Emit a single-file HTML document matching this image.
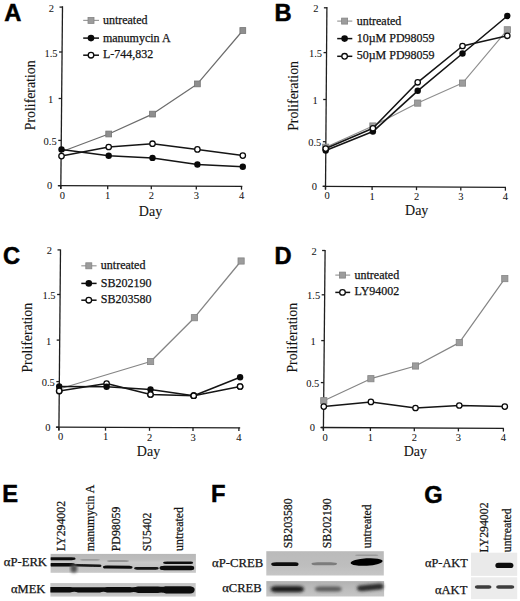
<!DOCTYPE html>
<html><head><meta charset="utf-8"><title>Figure</title>
<style>html,body{margin:0;padding:0;background:#fff;}svg{display:block;}</style>
</head><body>
<svg width="520" height="601" viewBox="0 0 520 601">
<rect width="520" height="601" fill="#fff"/>
<defs>
<filter id="b1" x="-20%" y="-50%" width="140%" height="200%"><feGaussianBlur stdDeviation="0.9"/></filter>
<filter id="b2" x="-20%" y="-50%" width="140%" height="200%"><feGaussianBlur stdDeviation="1.4"/></filter>
<filter id="b05" x="-20%" y="-50%" width="140%" height="200%"><feGaussianBlur stdDeviation="0.5"/></filter>
<filter id="b07" x="-20%" y="-50%" width="140%" height="200%"><feGaussianBlur stdDeviation="0.7"/></filter>
<filter id="b15" x="-20%" y="-50%" width="140%" height="200%"><feGaussianBlur stdDeviation="1.5"/></filter>
<linearGradient id="gE1" x1="0" y1="0" x2="0" y2="1">
<stop offset="0" stop-color="#b8b8b8"/><stop offset="0.3" stop-color="#bdbdbd"/><stop offset="0.45" stop-color="#cacaca"/><stop offset="0.7" stop-color="#c2c2c2"/><stop offset="1" stop-color="#c8c8c8"/></linearGradient>
<linearGradient id="gE2" x1="0" y1="0" x2="0" y2="1">
<stop offset="0" stop-color="#c4c4c4"/><stop offset="0.3" stop-color="#cacaca"/><stop offset="0.7" stop-color="#bebebe"/><stop offset="1" stop-color="#cccccc"/></linearGradient>
<linearGradient id="gF1" x1="0" y1="0" x2="0" y2="1">
<stop offset="0" stop-color="#bababa"/><stop offset="0.6" stop-color="#bebebe"/><stop offset="1" stop-color="#c6c6c6"/></linearGradient>
<linearGradient id="gF2" x1="0" y1="0" x2="0" y2="1">
<stop offset="0" stop-color="#b2b2b2"/><stop offset="0.5" stop-color="#bcbcbc"/><stop offset="1" stop-color="#c6c6c6"/></linearGradient>
</defs>
<text x="4.3" y="20.8" font-family='"Liberation Sans", sans-serif' font-weight="bold" font-size="23.7" fill="#000" stroke="#000" stroke-width="0.5">A</text>
<line x1="62.5" y1="6.3" x2="60.8" y2="189.0" stroke="#1e1e1e" stroke-width="1.3"/>
<line x1="58.6" y1="185.7" x2="242.3" y2="186.4" stroke="#1e1e1e" stroke-width="1.3"/>
<line x1="59.5" y1="7.1" x2="62.5" y2="7.1" stroke="#1e1e1e" stroke-width="1.3"/>
<text x="51.4" y="11.6" font-family='"Liberation Serif", serif' font-size="10.5" fill="#141414" stroke="#141414" stroke-width="0.05" text-anchor="middle" >2</text>
<line x1="59.08" y1="52.0" x2="62.08" y2="52.0" stroke="#1e1e1e" stroke-width="1.3"/>
<text x="50.98" y="56.5" font-family='"Liberation Serif", serif' font-size="10.5" fill="#141414" stroke="#141414" stroke-width="0.05" text-anchor="middle" >1.5</text>
<line x1="58.64" y1="98.5" x2="61.64" y2="98.5" stroke="#1e1e1e" stroke-width="1.3"/>
<text x="50.54" y="103.0" font-family='"Liberation Serif", serif' font-size="10.5" fill="#141414" stroke="#141414" stroke-width="0.05" text-anchor="middle" >1</text>
<line x1="58.25" y1="140.4" x2="61.25" y2="140.4" stroke="#1e1e1e" stroke-width="1.3"/>
<text x="50.15" y="144.9" font-family='"Liberation Serif", serif' font-size="10.5" fill="#141414" stroke="#141414" stroke-width="0.05" text-anchor="middle" >0.5</text>
<line x1="57.83" y1="185.7" x2="60.83" y2="185.7" stroke="#1e1e1e" stroke-width="1.3"/>
<text x="49.73" y="189.2" font-family='"Liberation Serif", serif' font-size="10.5" fill="#141414" stroke="#141414" stroke-width="0.05" text-anchor="middle" >0</text>
<line x1="60.8" y1="185.71" x2="60.8" y2="189.01" stroke="#1e1e1e" stroke-width="1.3"/>
<text x="62.4" y="198.71" font-family='"Liberation Serif", serif' font-size="10.5" fill="#141414" stroke="#141414" stroke-width="0.05" text-anchor="middle" >0</text>
<line x1="107.7" y1="185.89" x2="107.7" y2="189.19" stroke="#1e1e1e" stroke-width="1.3"/>
<text x="107.7" y="198.89" font-family='"Liberation Serif", serif' font-size="10.5" fill="#141414" stroke="#141414" stroke-width="0.05" text-anchor="middle" >1</text>
<line x1="151.3" y1="186.05" x2="151.3" y2="189.35" stroke="#1e1e1e" stroke-width="1.3"/>
<text x="151.3" y="199.05" font-family='"Liberation Serif", serif' font-size="10.5" fill="#141414" stroke="#141414" stroke-width="0.05" text-anchor="middle" >2</text>
<line x1="196.3" y1="186.22" x2="196.3" y2="189.52" stroke="#1e1e1e" stroke-width="1.3"/>
<text x="196.3" y="199.22" font-family='"Liberation Serif", serif' font-size="10.5" fill="#141414" stroke="#141414" stroke-width="0.05" text-anchor="middle" >3</text>
<line x1="241.5" y1="186.4" x2="241.5" y2="189.7" stroke="#1e1e1e" stroke-width="1.3"/>
<text x="241.5" y="199.4" font-family='"Liberation Serif", serif' font-size="10.5" fill="#141414" stroke="#141414" stroke-width="0.05" text-anchor="middle" >4</text>
<text x="150.5" y="215.8" font-family='"Liberation Serif", serif' font-size="14" fill="#141414" stroke="#141414" stroke-width="0.1" text-anchor="middle" >Day</text>
<text transform="translate(35.0,130.2) rotate(-90)" font-family='"Liberation Serif", serif' font-size="13.8" fill="#141414" stroke="#141414" stroke-width="0.12" >Proliferation</text>
<polyline points="61.5,151.8 108.7,134.0 152.5,114.1 197.4,83.9 242.8,30.5" fill="none" stroke="#6c6c6c" stroke-width="1.2" stroke-linejoin="round"/>
<rect x="105.80" y="131.10" width="5.8" height="5.8" fill="#8e8e8e" stroke="#767676" stroke-width="0.8"/>
<rect x="149.60" y="111.20" width="5.8" height="5.8" fill="#8e8e8e" stroke="#767676" stroke-width="0.8"/>
<rect x="194.50" y="81.00" width="5.8" height="5.8" fill="#8e8e8e" stroke="#767676" stroke-width="0.8"/>
<rect x="239.90" y="27.60" width="5.8" height="5.8" fill="#8e8e8e" stroke="#767676" stroke-width="0.8"/>
<polyline points="61.5,149.4 108.7,155.8 152.5,157.9 197.4,164.5 242.8,166.7" fill="none" stroke="#151515" stroke-width="1.5" stroke-linejoin="round"/>
<polyline points="61.5,156.1 108.7,147.0 152.5,143.7 197.4,149.4 242.8,155.6" fill="none" stroke="#151515" stroke-width="1.5" stroke-linejoin="round"/>
<circle cx="61.5" cy="149.4" r="3.2" fill="#0a0a0a"/>
<circle cx="108.7" cy="155.8" r="3.2" fill="#0a0a0a"/>
<circle cx="152.5" cy="157.9" r="3.2" fill="#0a0a0a"/>
<circle cx="197.4" cy="164.5" r="3.2" fill="#0a0a0a"/>
<circle cx="242.8" cy="166.7" r="3.2" fill="#0a0a0a"/>
<circle cx="61.5" cy="156.1" r="2.7" fill="#fff" stroke="#0a0a0a" stroke-width="1.3"/>
<circle cx="108.7" cy="147.0" r="2.7" fill="#fff" stroke="#0a0a0a" stroke-width="1.3"/>
<circle cx="152.5" cy="143.7" r="2.7" fill="#fff" stroke="#0a0a0a" stroke-width="1.3"/>
<circle cx="197.4" cy="149.4" r="2.7" fill="#fff" stroke="#0a0a0a" stroke-width="1.3"/>
<circle cx="242.8" cy="155.6" r="2.7" fill="#fff" stroke="#0a0a0a" stroke-width="1.3"/>
<line x1="83.2" y1="20.4" x2="99.0" y2="20.4" stroke="#9a9a9a" stroke-width="1.2"/>
<rect x="88.00" y="17.40" width="6.0" height="6.0" fill="#9c9c9c" stroke="#858585" stroke-width="0.8"/>
<text x="102.9" y="23.8" font-family='"Liberation Serif", serif' font-size="12" fill="#141414" stroke="#141414" stroke-width="0.25" text-anchor="start" >untreated</text>
<line x1="83.2" y1="38.1" x2="99.0" y2="38.1" stroke="#111" stroke-width="1.5"/>
<circle cx="91.0" cy="38.1" r="3.3" fill="#0a0a0a"/>
<text x="102.9" y="41.5" font-family='"Liberation Serif", serif' font-size="12" fill="#141414" stroke="#141414" stroke-width="0.25" text-anchor="start" >manumycin A</text>
<line x1="83.2" y1="55.2" x2="99.0" y2="55.2" stroke="#111" stroke-width="1.5"/>
<circle cx="91.0" cy="55.2" r="2.8" fill="#fff" stroke="#0a0a0a" stroke-width="1.3"/>
<text x="102.9" y="57.9" font-family='"Liberation Serif", serif' font-size="12" fill="#141414" stroke="#141414" stroke-width="0.25" text-anchor="start" >L-744,832</text>
<text x="274.6" y="20.8" font-family='"Liberation Sans", sans-serif' font-weight="bold" font-size="23.7" fill="#000" stroke="#000" stroke-width="0.5">B</text>
<line x1="326.9" y1="6.9" x2="325.5" y2="189.6" stroke="#1e1e1e" stroke-width="1.3"/>
<line x1="323.2" y1="186.3" x2="506.0" y2="187.4" stroke="#1e1e1e" stroke-width="1.3"/>
<line x1="323.9" y1="7.8" x2="326.9" y2="7.8" stroke="#1e1e1e" stroke-width="1.3"/>
<text x="315.8" y="12.3" font-family='"Liberation Serif", serif' font-size="10.5" fill="#141414" stroke="#141414" stroke-width="0.05" text-anchor="middle" >2</text>
<line x1="323.55" y1="52.6" x2="326.55" y2="52.6" stroke="#1e1e1e" stroke-width="1.3"/>
<text x="315.45" y="57.1" font-family='"Liberation Serif", serif' font-size="10.5" fill="#141414" stroke="#141414" stroke-width="0.05" text-anchor="middle" >1.5</text>
<line x1="323.19" y1="99.5" x2="326.19" y2="99.5" stroke="#1e1e1e" stroke-width="1.3"/>
<text x="315.09" y="104.0" font-family='"Liberation Serif", serif' font-size="10.5" fill="#141414" stroke="#141414" stroke-width="0.05" text-anchor="middle" >1</text>
<line x1="322.87" y1="141.7" x2="325.87" y2="141.7" stroke="#1e1e1e" stroke-width="1.3"/>
<text x="314.77" y="146.2" font-family='"Liberation Serif", serif' font-size="10.5" fill="#141414" stroke="#141414" stroke-width="0.05" text-anchor="middle" >0.5</text>
<line x1="322.53" y1="186.3" x2="325.53" y2="186.3" stroke="#1e1e1e" stroke-width="1.3"/>
<text x="314.43" y="189.8" font-family='"Liberation Serif", serif' font-size="10.5" fill="#141414" stroke="#141414" stroke-width="0.05" text-anchor="middle" >0</text>
<line x1="325.5" y1="186.31" x2="325.5" y2="189.61" stroke="#1e1e1e" stroke-width="1.3"/>
<text x="327.1" y="199.31" font-family='"Liberation Serif", serif' font-size="10.5" fill="#141414" stroke="#141414" stroke-width="0.05" text-anchor="middle" >0</text>
<line x1="372.1" y1="186.59" x2="372.1" y2="189.89" stroke="#1e1e1e" stroke-width="1.3"/>
<text x="372.1" y="199.59" font-family='"Liberation Serif", serif' font-size="10.5" fill="#141414" stroke="#141414" stroke-width="0.05" text-anchor="middle" >1</text>
<line x1="416.5" y1="186.86" x2="416.5" y2="190.16" stroke="#1e1e1e" stroke-width="1.3"/>
<text x="416.5" y="199.86" font-family='"Liberation Serif", serif' font-size="10.5" fill="#141414" stroke="#141414" stroke-width="0.05" text-anchor="middle" >2</text>
<line x1="460.8" y1="187.13" x2="460.8" y2="190.43" stroke="#1e1e1e" stroke-width="1.3"/>
<text x="460.8" y="200.13" font-family='"Liberation Serif", serif' font-size="10.5" fill="#141414" stroke="#141414" stroke-width="0.05" text-anchor="middle" >3</text>
<line x1="505.4" y1="187.4" x2="505.4" y2="190.7" stroke="#1e1e1e" stroke-width="1.3"/>
<text x="505.4" y="200.4" font-family='"Liberation Serif", serif' font-size="10.5" fill="#141414" stroke="#141414" stroke-width="0.05" text-anchor="middle" >4</text>
<text x="416.7" y="214.6" font-family='"Liberation Serif", serif' font-size="14" fill="#141414" stroke="#141414" stroke-width="0.1" text-anchor="middle" >Day</text>
<text transform="translate(298.4,130.8) rotate(-90)" font-family='"Liberation Serif", serif' font-size="13.8" fill="#141414" stroke="#141414" stroke-width="0.12" >Proliferation</text>
<polyline points="325.7,147.2 372.9,126.0 417.7,103.1 462.5,83.1 507.3,29.8" fill="none" stroke="#8e8e8e" stroke-width="1.1" stroke-linejoin="round"/>
<rect x="322.60" y="144.10" width="6.2" height="6.2" fill="#9c9c9c" stroke="#858585" stroke-width="0.8"/>
<rect x="369.80" y="122.90" width="6.2" height="6.2" fill="#9c9c9c" stroke="#858585" stroke-width="0.8"/>
<rect x="414.60" y="100.00" width="6.2" height="6.2" fill="#9c9c9c" stroke="#858585" stroke-width="0.8"/>
<rect x="459.40" y="80.00" width="6.2" height="6.2" fill="#9c9c9c" stroke="#858585" stroke-width="0.8"/>
<rect x="504.20" y="26.70" width="6.2" height="6.2" fill="#9c9c9c" stroke="#858585" stroke-width="0.8"/>
<polyline points="325.7,150.6 372.9,131.6 417.7,90.8 462.5,53.5 507.3,16.0" fill="none" stroke="#151515" stroke-width="1.6" stroke-linejoin="round"/>
<polyline points="325.7,148.6 372.9,128.3 417.7,82.3 462.5,46.0 507.3,35.8" fill="none" stroke="#151515" stroke-width="1.6" stroke-linejoin="round"/>
<circle cx="325.7" cy="150.6" r="3.2" fill="#0a0a0a"/>
<circle cx="372.9" cy="131.6" r="3.2" fill="#0a0a0a"/>
<circle cx="417.7" cy="90.8" r="3.2" fill="#0a0a0a"/>
<circle cx="462.5" cy="53.5" r="3.2" fill="#0a0a0a"/>
<circle cx="507.3" cy="16.0" r="3.2" fill="#0a0a0a"/>
<circle cx="325.7" cy="148.6" r="2.7" fill="#fff" stroke="#0a0a0a" stroke-width="1.3"/>
<circle cx="372.9" cy="128.3" r="2.7" fill="#fff" stroke="#0a0a0a" stroke-width="1.3"/>
<circle cx="417.7" cy="82.3" r="2.7" fill="#fff" stroke="#0a0a0a" stroke-width="1.3"/>
<circle cx="462.5" cy="46.0" r="2.7" fill="#fff" stroke="#0a0a0a" stroke-width="1.3"/>
<circle cx="507.3" cy="35.8" r="2.7" fill="#fff" stroke="#0a0a0a" stroke-width="1.3"/>
<line x1="337.2" y1="21.1" x2="352.3" y2="21.1" stroke="#9a9a9a" stroke-width="1.2"/>
<rect x="341.60" y="18.10" width="6.0" height="6.0" fill="#9c9c9c" stroke="#858585" stroke-width="0.8"/>
<text x="356.7" y="24.5" font-family='"Liberation Serif", serif' font-size="12" fill="#141414" stroke="#141414" stroke-width="0.25" text-anchor="start" >untreated</text>
<line x1="337.2" y1="38.6" x2="352.3" y2="38.6" stroke="#111" stroke-width="1.5"/>
<circle cx="344.6" cy="38.6" r="3.3" fill="#0a0a0a"/>
<text x="356.7" y="42.0" font-family='"Liberation Serif", serif' font-size="12" fill="#141414" stroke="#141414" stroke-width="0.25" text-anchor="start" >10µM PD98059</text>
<line x1="337.2" y1="56.3" x2="352.3" y2="56.3" stroke="#111" stroke-width="1.5"/>
<circle cx="344.6" cy="56.3" r="2.8" fill="#fff" stroke="#0a0a0a" stroke-width="1.3"/>
<text x="356.7" y="59.0" font-family='"Liberation Serif", serif' font-size="12" fill="#141414" stroke="#141414" stroke-width="0.25" text-anchor="start" >50µM PD98059</text>
<text x="3.0" y="264.0" font-family='"Liberation Sans", sans-serif' font-weight="bold" font-size="23.7" fill="#000" stroke="#000" stroke-width="0.5">C</text>
<line x1="60.5" y1="249.6" x2="58.9" y2="430.5" stroke="#1e1e1e" stroke-width="1.3"/>
<line x1="56.3" y1="427.2" x2="240.2" y2="427.8" stroke="#1e1e1e" stroke-width="1.3"/>
<line x1="57.5" y1="249.9" x2="60.5" y2="249.9" stroke="#1e1e1e" stroke-width="1.3"/>
<text x="49.4" y="254.4" font-family='"Liberation Serif", serif' font-size="10.5" fill="#141414" stroke="#141414" stroke-width="0.05" text-anchor="middle" >2</text>
<line x1="57.1" y1="294.5" x2="60.1" y2="294.5" stroke="#1e1e1e" stroke-width="1.3"/>
<text x="49.0" y="299.0" font-family='"Liberation Serif", serif' font-size="10.5" fill="#141414" stroke="#141414" stroke-width="0.05" text-anchor="middle" >1.5</text>
<line x1="56.7" y1="340.1" x2="59.7" y2="340.1" stroke="#1e1e1e" stroke-width="1.3"/>
<text x="48.6" y="344.6" font-family='"Liberation Serif", serif' font-size="10.5" fill="#141414" stroke="#141414" stroke-width="0.05" text-anchor="middle" >1</text>
<line x1="56.33" y1="381.6" x2="59.33" y2="381.6" stroke="#1e1e1e" stroke-width="1.3"/>
<text x="48.23" y="386.1" font-family='"Liberation Serif", serif' font-size="10.5" fill="#141414" stroke="#141414" stroke-width="0.05" text-anchor="middle" >0.5</text>
<line x1="55.93" y1="427.2" x2="58.93" y2="427.2" stroke="#1e1e1e" stroke-width="1.3"/>
<text x="47.83" y="430.7" font-family='"Liberation Serif", serif' font-size="10.5" fill="#141414" stroke="#141414" stroke-width="0.05" text-anchor="middle" >0</text>
<line x1="58.9" y1="427.21" x2="58.9" y2="430.51" stroke="#1e1e1e" stroke-width="1.3"/>
<text x="60.5" y="440.21" font-family='"Liberation Serif", serif' font-size="10.5" fill="#141414" stroke="#141414" stroke-width="0.05" text-anchor="middle" >0</text>
<line x1="105.5" y1="427.36" x2="105.5" y2="430.66" stroke="#1e1e1e" stroke-width="1.3"/>
<text x="105.5" y="440.36" font-family='"Liberation Serif", serif' font-size="10.5" fill="#141414" stroke="#141414" stroke-width="0.05" text-anchor="middle" >1</text>
<line x1="149.5" y1="427.5" x2="149.5" y2="430.8" stroke="#1e1e1e" stroke-width="1.3"/>
<text x="149.5" y="440.5" font-family='"Liberation Serif", serif' font-size="10.5" fill="#141414" stroke="#141414" stroke-width="0.05" text-anchor="middle" >2</text>
<line x1="193.0" y1="427.65" x2="193.0" y2="430.95" stroke="#1e1e1e" stroke-width="1.3"/>
<text x="193.0" y="440.65" font-family='"Liberation Serif", serif' font-size="10.5" fill="#141414" stroke="#141414" stroke-width="0.05" text-anchor="middle" >3</text>
<line x1="238.9" y1="427.8" x2="238.9" y2="431.1" stroke="#1e1e1e" stroke-width="1.3"/>
<text x="238.9" y="440.8" font-family='"Liberation Serif", serif' font-size="10.5" fill="#141414" stroke="#141414" stroke-width="0.05" text-anchor="middle" >4</text>
<text x="148.5" y="455.6" font-family='"Liberation Serif", serif' font-size="14" fill="#141414" stroke="#141414" stroke-width="0.1" text-anchor="middle" >Day</text>
<text transform="translate(32.2,372.6) rotate(-90)" font-family='"Liberation Serif", serif' font-size="13.8" fill="#141414" stroke="#141414" stroke-width="0.12" >Proliferation</text>
<polyline points="59.2,389.0 150.6,361.5 194.4,317.7 241.1,261.0" fill="none" stroke="#858585" stroke-width="1.3" stroke-linejoin="round"/>
<rect x="147.50" y="358.40" width="6.2" height="6.2" fill="#9c9c9c" stroke="#858585" stroke-width="0.8"/>
<rect x="191.30" y="314.60" width="6.2" height="6.2" fill="#9c9c9c" stroke="#858585" stroke-width="0.8"/>
<rect x="238.00" y="257.90" width="6.2" height="6.2" fill="#9c9c9c" stroke="#858585" stroke-width="0.8"/>
<polyline points="59.2,386.5 106.6,386.7 150.5,389.5 193.7,395.7 240.1,377.2" fill="none" stroke="#151515" stroke-width="1.5" stroke-linejoin="round"/>
<polyline points="59.2,390.9 106.6,383.6 150.5,394.5 193.7,395.7 240.1,386.5" fill="none" stroke="#151515" stroke-width="1.5" stroke-linejoin="round"/>
<circle cx="59.2" cy="390.9" r="2.7" fill="#fff" stroke="#0a0a0a" stroke-width="1.3"/>
<circle cx="106.6" cy="383.6" r="2.7" fill="#fff" stroke="#0a0a0a" stroke-width="1.3"/>
<circle cx="150.5" cy="394.5" r="2.7" fill="#fff" stroke="#0a0a0a" stroke-width="1.3"/>
<circle cx="193.7" cy="395.7" r="2.7" fill="#fff" stroke="#0a0a0a" stroke-width="1.3"/>
<circle cx="240.1" cy="386.5" r="2.7" fill="#fff" stroke="#0a0a0a" stroke-width="1.3"/>
<circle cx="59.2" cy="386.5" r="3.2" fill="#0a0a0a"/>
<circle cx="106.6" cy="386.7" r="3.2" fill="#0a0a0a"/>
<circle cx="150.5" cy="389.5" r="3.2" fill="#0a0a0a"/>
<circle cx="193.7" cy="395.7" r="3.2" fill="#0a0a0a"/>
<circle cx="240.1" cy="377.2" r="3.2" fill="#0a0a0a"/>
<circle cx="59.2" cy="390.9" r="2.7" fill="#fff" stroke="#0a0a0a" stroke-width="1.3"/>
<circle cx="150.5" cy="394.5" r="2.7" fill="#fff" stroke="#0a0a0a" stroke-width="1.3"/>
<circle cx="193.7" cy="395.7" r="2.7" fill="#fff" stroke="#0a0a0a" stroke-width="1.3"/>
<circle cx="240.1" cy="386.5" r="2.7" fill="#fff" stroke="#0a0a0a" stroke-width="1.3"/>
<line x1="81.3" y1="265.8" x2="96.6" y2="265.8" stroke="#9a9a9a" stroke-width="1.2"/>
<rect x="85.80" y="262.80" width="6.0" height="6.0" fill="#9c9c9c" stroke="#858585" stroke-width="0.8"/>
<text x="100.8" y="269.2" font-family='"Liberation Serif", serif' font-size="12" fill="#141414" stroke="#141414" stroke-width="0.25" text-anchor="start" >untreated</text>
<line x1="81.3" y1="283.4" x2="96.6" y2="283.4" stroke="#111" stroke-width="1.5"/>
<circle cx="88.8" cy="283.4" r="3.3" fill="#0a0a0a"/>
<text x="100.8" y="286.8" font-family='"Liberation Serif", serif' font-size="12" fill="#141414" stroke="#141414" stroke-width="0.25" text-anchor="start" >SB202190</text>
<line x1="81.3" y1="300.2" x2="96.6" y2="300.2" stroke="#111" stroke-width="1.5"/>
<circle cx="88.8" cy="300.2" r="2.8" fill="#fff" stroke="#0a0a0a" stroke-width="1.3"/>
<text x="100.8" y="302.9" font-family='"Liberation Serif", serif' font-size="12" fill="#141414" stroke="#141414" stroke-width="0.25" text-anchor="start" >SB203580</text>
<text x="274.5" y="263.7" font-family='"Liberation Sans", sans-serif' font-weight="bold" font-size="23.7" fill="#000" stroke="#000" stroke-width="0.5">D</text>
<line x1="325.1" y1="250.1" x2="323.4" y2="430.6" stroke="#1e1e1e" stroke-width="1.3"/>
<line x1="321.1" y1="427.5" x2="503.8" y2="428.3" stroke="#1e1e1e" stroke-width="1.3"/>
<line x1="322.1" y1="250.5" x2="325.1" y2="250.5" stroke="#1e1e1e" stroke-width="1.3"/>
<text x="314.0" y="255.0" font-family='"Liberation Serif", serif' font-size="10.5" fill="#141414" stroke="#141414" stroke-width="0.05" text-anchor="middle" >2</text>
<line x1="321.68" y1="294.8" x2="324.68" y2="294.8" stroke="#1e1e1e" stroke-width="1.3"/>
<text x="313.58" y="299.3" font-family='"Liberation Serif", serif' font-size="10.5" fill="#141414" stroke="#141414" stroke-width="0.05" text-anchor="middle" >1.5</text>
<line x1="321.25" y1="340.6" x2="324.25" y2="340.6" stroke="#1e1e1e" stroke-width="1.3"/>
<text x="313.15" y="345.1" font-family='"Liberation Serif", serif' font-size="10.5" fill="#141414" stroke="#141414" stroke-width="0.05" text-anchor="middle" >1</text>
<line x1="320.85" y1="382.6" x2="323.85" y2="382.6" stroke="#1e1e1e" stroke-width="1.3"/>
<text x="312.75" y="387.1" font-family='"Liberation Serif", serif' font-size="10.5" fill="#141414" stroke="#141414" stroke-width="0.05" text-anchor="middle" >0.5</text>
<line x1="320.43" y1="427.5" x2="323.43" y2="427.5" stroke="#1e1e1e" stroke-width="1.3"/>
<text x="312.33" y="431.0" font-family='"Liberation Serif", serif' font-size="10.5" fill="#141414" stroke="#141414" stroke-width="0.05" text-anchor="middle" >0</text>
<line x1="323.4" y1="427.51" x2="323.4" y2="430.81" stroke="#1e1e1e" stroke-width="1.3"/>
<text x="325.0" y="440.51" font-family='"Liberation Serif", serif' font-size="10.5" fill="#141414" stroke="#141414" stroke-width="0.05" text-anchor="middle" >0</text>
<line x1="370.4" y1="427.72" x2="370.4" y2="431.02" stroke="#1e1e1e" stroke-width="1.3"/>
<text x="370.4" y="440.72" font-family='"Liberation Serif", serif' font-size="10.5" fill="#141414" stroke="#141414" stroke-width="0.05" text-anchor="middle" >1</text>
<line x1="414.3" y1="427.91" x2="414.3" y2="431.21" stroke="#1e1e1e" stroke-width="1.3"/>
<text x="414.3" y="440.91" font-family='"Liberation Serif", serif' font-size="10.5" fill="#141414" stroke="#141414" stroke-width="0.05" text-anchor="middle" >2</text>
<line x1="458.4" y1="428.1" x2="458.4" y2="431.4" stroke="#1e1e1e" stroke-width="1.3"/>
<text x="458.4" y="441.1" font-family='"Liberation Serif", serif' font-size="10.5" fill="#141414" stroke="#141414" stroke-width="0.05" text-anchor="middle" >3</text>
<line x1="503.4" y1="428.3" x2="503.4" y2="431.6" stroke="#1e1e1e" stroke-width="1.3"/>
<text x="503.4" y="441.3" font-family='"Liberation Serif", serif' font-size="10.5" fill="#141414" stroke="#141414" stroke-width="0.05" text-anchor="middle" >4</text>
<text x="415.3" y="456.0" font-family='"Liberation Serif", serif' font-size="14" fill="#141414" stroke="#141414" stroke-width="0.1" text-anchor="middle" >Day</text>
<text transform="translate(297.0,372.6) rotate(-90)" font-family='"Liberation Serif", serif' font-size="13.8" fill="#141414" stroke="#141414" stroke-width="0.12" >Proliferation</text>
<polyline points="323.8,400.7 370.9,378.7 415.5,366.0 459.3,342.6 504.8,278.6" fill="none" stroke="#858585" stroke-width="1.2" stroke-linejoin="round"/>
<rect x="320.70" y="397.60" width="6.2" height="6.2" fill="#9c9c9c" stroke="#858585" stroke-width="0.8"/>
<rect x="367.80" y="375.60" width="6.2" height="6.2" fill="#9c9c9c" stroke="#858585" stroke-width="0.8"/>
<rect x="412.40" y="362.90" width="6.2" height="6.2" fill="#9c9c9c" stroke="#858585" stroke-width="0.8"/>
<rect x="456.20" y="339.50" width="6.2" height="6.2" fill="#9c9c9c" stroke="#858585" stroke-width="0.8"/>
<rect x="501.70" y="275.50" width="6.2" height="6.2" fill="#9c9c9c" stroke="#858585" stroke-width="0.8"/>
<polyline points="323.8,406.6 370.9,401.9 415.5,408.0 459.3,405.5 504.8,406.6" fill="none" stroke="#151515" stroke-width="1.5" stroke-linejoin="round"/>
<circle cx="323.8" cy="406.6" r="2.7" fill="#fff" stroke="#0a0a0a" stroke-width="1.3"/>
<circle cx="370.9" cy="401.9" r="2.7" fill="#fff" stroke="#0a0a0a" stroke-width="1.3"/>
<circle cx="415.5" cy="408.0" r="2.7" fill="#fff" stroke="#0a0a0a" stroke-width="1.3"/>
<circle cx="459.3" cy="405.5" r="2.7" fill="#fff" stroke="#0a0a0a" stroke-width="1.3"/>
<circle cx="504.8" cy="406.6" r="2.7" fill="#fff" stroke="#0a0a0a" stroke-width="1.3"/>
<line x1="335.3" y1="275.1" x2="350.2" y2="275.1" stroke="#9a9a9a" stroke-width="1.2"/>
<rect x="339.50" y="272.10" width="6.0" height="6.0" fill="#9c9c9c" stroke="#858585" stroke-width="0.8"/>
<text x="354.5" y="278.5" font-family='"Liberation Serif", serif' font-size="12" fill="#141414" stroke="#141414" stroke-width="0.25" text-anchor="start" >untreated</text>
<line x1="335.3" y1="292.4" x2="350.2" y2="292.4" stroke="#111" stroke-width="1.5"/>
<circle cx="342.5" cy="292.4" r="2.8" fill="#fff" stroke="#0a0a0a" stroke-width="1.3"/>
<text x="354.5" y="295.1" font-family='"Liberation Serif", serif' font-size="12" fill="#141414" stroke="#141414" stroke-width="0.25" text-anchor="start" >LY94002</text>
<text x="2.3" y="502.3" font-family='"Liberation Sans", sans-serif' font-weight="bold" font-size="23.7" fill="#000" stroke="#000" stroke-width="0.5">E</text>
<text transform="translate(64.7,550.9) rotate(-90)" font-family='"Liberation Serif", serif' font-size="11.8" fill="#141414" stroke="#141414" stroke-width="0.25" >LY294002</text>
<text transform="translate(93.8,551.2) rotate(-90)" font-family='"Liberation Serif", serif' font-size="11.8" fill="#141414" stroke="#141414" stroke-width="0.25" >manumycin A</text>
<text transform="translate(120.2,551.2) rotate(-90)" font-family='"Liberation Serif", serif' font-size="11.8" fill="#141414" stroke="#141414" stroke-width="0.25" >PD98059</text>
<text transform="translate(151.2,551.2) rotate(-90)" font-family='"Liberation Serif", serif' font-size="11.8" fill="#141414" stroke="#141414" stroke-width="0.25" >SU5402</text>
<text transform="translate(182.6,550.9) rotate(-90)" font-family='"Liberation Serif", serif' font-size="11.8" fill="#141414" stroke="#141414" stroke-width="0.25" >untreated</text>
<text x="3.8" y="565.6" font-family='"Liberation Serif", serif' font-size="12" fill="#141414" stroke="#141414" stroke-width="0.25" text-anchor="start" textLength="43.2" lengthAdjust="spacingAndGlyphs">αP-ERK</text>
<text x="11.0" y="592.5" font-family='"Liberation Serif", serif' font-size="12" fill="#141414" stroke="#141414" stroke-width="0.25" text-anchor="start" textLength="34.4" lengthAdjust="spacingAndGlyphs">αMEK</text>
<rect x="50.6" y="553.9" width="145.3" height="18.9" fill="url(#gE1)"/>
<g filter="url(#b07)">
<path d="M50.60,558.80 Q50.60,557.35 50.90,557.35 L71.50,557.35 Q75.50,557.35 75.50,558.80 Q75.50,560.25 71.50,560.25 L50.90,560.25 Q50.60,560.25 50.60,558.80 Z" fill="#0c0c0c"/>
<path d="M50.60,564.80 Q50.60,563.00 50.90,563.00 L72.00,563.00 Q75.00,563.00 75.00,564.80 Q75.00,566.60 72.00,566.60 L50.90,566.60 Q50.60,566.60 50.60,564.80 Z" fill="#0a0a0a"/>
<path d="M74.00,565.30 Q74.00,564.00 77.00,564.00 L99.50,564.50 Q101.50,564.50 101.50,565.80 Q101.50,567.10 99.50,567.10 L77.00,566.60 Q74.00,566.60 74.00,565.30 Z" fill="#141414"/>
<path d="M80.00,559.80 Q80.00,559.20 83.00,559.20 L97.00,559.20 Q100.00,559.20 100.00,559.80 Q100.00,560.40 97.00,560.40 L83.00,560.40 Q80.00,560.40 80.00,559.80 Z" fill="#8e8e8e"/>
<path d="M103.00,566.90 Q103.00,565.40 106.00,565.40 L129.50,565.70 Q132.50,565.70 132.50,567.20 Q132.50,568.70 129.50,568.70 L106.00,568.40 Q103.00,568.40 103.00,566.90 Z" fill="#0e0e0e"/>
<path d="M107.00,561.00 Q107.00,560.30 111.00,560.30 L125.00,560.30 Q129.00,560.30 129.00,561.00 Q129.00,561.70 125.00,561.70 L111.00,561.70 Q107.00,561.70 107.00,561.00 Z" fill="#858585"/>
<path d="M134.00,568.30 Q134.00,566.90 137.00,566.90 L155.80,566.90 Q158.80,566.90 158.80,568.30 Q158.80,569.70 155.80,569.70 L137.00,569.70 Q134.00,569.70 134.00,568.30 Z" fill="#121212"/>
<path d="M163.00,562.80 Q163.00,561.50 168.00,561.50 L190.20,561.50 Q193.20,561.50 193.20,562.80 Q193.20,564.10 190.20,564.10 L168.00,564.10 Q163.00,564.10 163.00,562.80 Z" fill="#0e0e0e"/>
<path d="M159.50,567.90 Q159.50,565.65 164.50,565.65 L191.20,565.65 Q194.20,565.65 194.20,567.90 Q194.20,570.15 191.20,570.15 L164.50,570.15 Q159.50,570.15 159.50,567.90 Z" fill="#080808"/>
</g>
<g filter="url(#b15)"><ellipse cx="73.8" cy="568.4" rx="3.4" ry="4.2" fill="#505050"/></g>
<rect x="50.4" y="583.1" width="145.3" height="13.5" fill="url(#gE2)"/>
<g filter="url(#b07)">
<path d="M50.4,587.0 L70,587.0 Q74.3,587.5 78,587.2 L100,587.2 Q103.5,587.6 107,587.0 L130,587.0 Q134.2,587.5 138,586.6 L158,586.6 Q162,587.0 166,586.2 L190,586.2 Q195,586.8 194.6,589.8 Q194.6,593.4 190,593.6 L166,593.6 Q162,592.0 158,593.0 L138,593.0 Q134.2,591.2 130,592.6 L107,592.6 Q103.5,591.0 100,592.5 L78,592.5 Q74.3,590.8 70,592.6 L50.4,592.6 Z" fill="#0a0a0a"/>
</g>
<text x="210.9" y="502.3" font-family='"Liberation Sans", sans-serif' font-weight="bold" font-size="23.7" fill="#000" stroke="#000" stroke-width="0.5">F</text>
<text transform="translate(291.9,548.2) rotate(-90)" font-family='"Liberation Serif", serif' font-size="11.8" fill="#141414" stroke="#141414" stroke-width="0.25" >SB203580</text>
<text transform="translate(330.5,548.2) rotate(-90)" font-family='"Liberation Serif", serif' font-size="11.8" fill="#141414" stroke="#141414" stroke-width="0.25" >SB202190</text>
<text transform="translate(371.4,548.2) rotate(-90)" font-family='"Liberation Serif", serif' font-size="11.8" fill="#141414" stroke="#141414" stroke-width="0.25" >untreated</text>
<text x="212.0" y="566.5" font-family='"Liberation Serif", serif' font-size="12" fill="#141414" stroke="#141414" stroke-width="0.25" text-anchor="start" textLength="51.2" lengthAdjust="spacingAndGlyphs">αP-CREB</text>
<text x="222.2" y="592.3" font-family='"Liberation Serif", serif' font-size="12" fill="#141414" stroke="#141414" stroke-width="0.25" text-anchor="start" textLength="39.4" lengthAdjust="spacingAndGlyphs">αCREB</text>
<rect x="266.3" y="551.2" width="117.5" height="24.3" fill="url(#gF1)"/>
<g filter="url(#b07)">
<path d="M271.20,564.20 Q271.20,562.35 276.20,562.35 L295.50,562.35 Q298.50,562.35 298.50,564.20 Q298.50,566.05 295.50,566.05 L276.20,566.05 Q271.20,566.05 271.20,564.20 Z" fill="#0c0c0c"/>
<path d="M311.50,563.80 Q311.50,562.30 317.50,562.30 L331.00,562.30 Q337.00,562.30 337.00,563.80 Q337.00,565.30 331.00,565.30 L317.50,565.30 Q311.50,565.30 311.50,563.80 Z" fill="#7c7c7c"/>
<ellipse cx="366.6" cy="562.0" rx="16.0" ry="3.7" transform="rotate(-3.5 366.6 562.0)" fill="#060606"/>
<path d="M355.00,555.30 Q355.00,554.60 358.00,554.60 L375.50,554.60 Q378.50,554.60 378.50,555.30 Q378.50,556.00 375.50,556.00 L358.00,556.00 Q355.00,556.00 355.00,555.30 Z" fill="#9a9a9a"/>
</g>
<rect x="266.3" y="581.1" width="117.8" height="15.4" fill="url(#gF2)"/>
<g filter="url(#b15)">
<path d="M270.60,589.10 Q270.60,585.90 276.60,585.90 L298.00,585.90 Q304.00,585.90 304.00,589.10 Q304.00,592.30 298.00,592.30 L276.60,592.30 Q270.60,592.30 270.60,589.10 Z" fill="#1e1e1e"/>
<path d="M315.00,589.00 Q315.00,586.50 320.00,586.50 L336.70,586.50 Q341.70,586.50 341.70,589.00 Q341.70,591.50 336.70,591.50 L320.00,591.50 Q315.00,591.50 315.00,589.00 Z" fill="#5a5a5a"/>
<path d="M357.00,588.20 Q357.00,585.20 362.00,585.20 L379.50,583.60 Q383.50,583.60 383.50,586.60 Q383.50,589.60 379.50,589.60 L362.00,591.20 Q357.00,591.20 357.00,588.20 Z" fill="#2a2a2a"/>
</g>
<text x="424.2" y="503.0" font-family='"Liberation Sans", sans-serif' font-weight="bold" font-size="23.7" fill="#000" stroke="#000" stroke-width="0.5">G</text>
<text transform="translate(488.2,552.4) rotate(-90)" font-family='"Liberation Serif", serif' font-size="11.8" fill="#141414" stroke="#141414" stroke-width="0.25" >LY294002</text>
<text transform="translate(511.3,552.2) rotate(-90)" font-family='"Liberation Serif", serif' font-size="11.8" fill="#141414" stroke="#141414" stroke-width="0.25" >untreated</text>
<text x="425.0" y="567.0" font-family='"Liberation Serif", serif' font-size="12" fill="#141414" stroke="#141414" stroke-width="0.25" text-anchor="start" textLength="42.8" lengthAdjust="spacingAndGlyphs">αP-AKT</text>
<text x="435.0" y="593.8" font-family='"Liberation Serif", serif' font-size="12" fill="#141414" stroke="#141414" stroke-width="0.25" text-anchor="start" textLength="32.3" lengthAdjust="spacingAndGlyphs">αAKT</text>
<rect x="471" y="552.7" width="46.2" height="23.2" fill="#eaeaea"/>
<g filter="url(#b07)">
<path d="M495.40,565.40 Q495.40,562.70 498.40,562.70 L510.40,562.70 Q513.40,562.70 513.40,565.40 Q513.40,568.10 510.40,568.10 L498.40,568.10 Q495.40,568.10 495.40,565.40 Z" fill="#080808"/>
</g>
<rect x="471" y="577.3" width="46.2" height="21.8" fill="#ececec"/>
<g filter="url(#b07)">
<path d="M474.80,587.00 Q474.80,585.30 477.30,585.30 L489.00,585.30 Q491.50,585.30 491.50,587.00 Q491.50,588.70 489.00,588.70 L477.30,588.70 Q474.80,588.70 474.80,587.00 Z" fill="#3c3c3c"/>
<path d="M496.10,587.00 Q496.10,585.30 498.60,585.30 L511.80,585.30 Q514.30,585.30 514.30,587.00 Q514.30,588.70 511.80,588.70 L498.60,588.70 Q496.10,588.70 496.10,587.00 Z" fill="#3c3c3c"/>
</g>
</svg>
</body></html>
